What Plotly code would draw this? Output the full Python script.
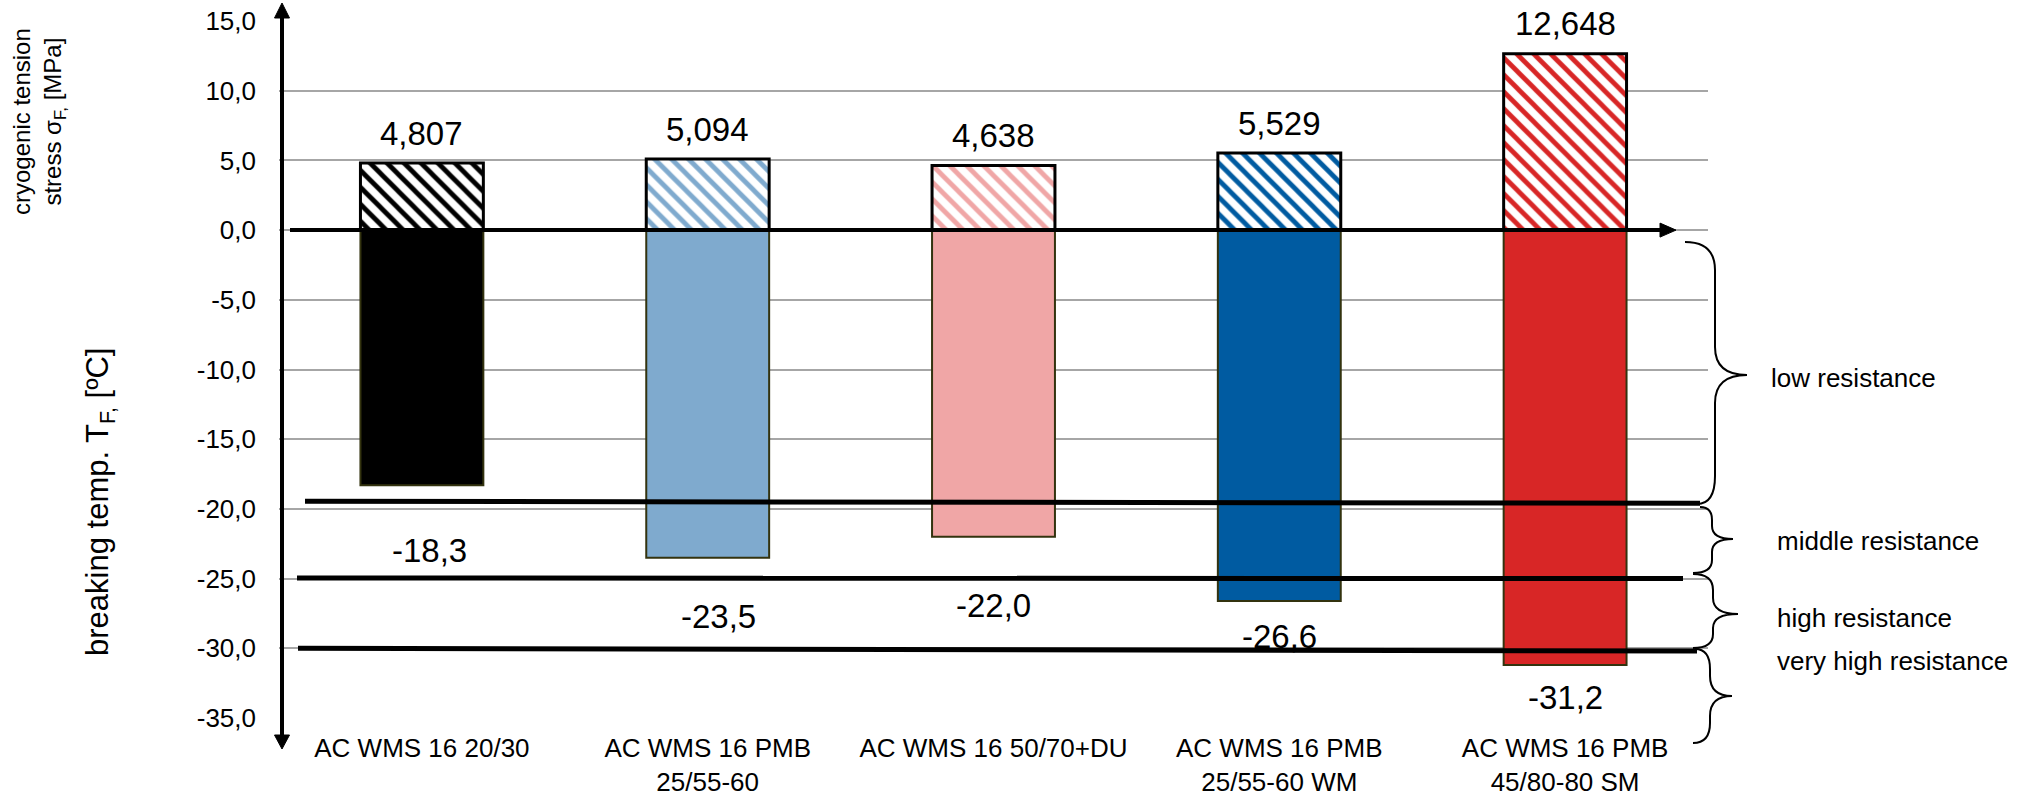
import plotly.graph_objects as go

# ---------------- data ----------------
categories = ["AC WMS 16 20/30", "AC WMS 16 PMB<br>25/55-60", "AC WMS 16 50/70+DU",
              "AC WMS 16 PMB<br>25/55-60 WM", "AC WMS 16 PMB<br>45/80-80 SM"]
stress = [4.807, 5.094, 4.638, 5.529, 12.648]          # cryogenic tension stress [MPa]
temp = [-18.3, -23.5, -22.0, -26.6, -31.2]              # breaking temperature [degC]
bar_colors = ["#000000", "#7FAACE", "#F0A6A6", "#005BA1", "#D82626"]
y_tick_vals = [15, 10, 5, 0, -5, -10, -15, -20, -25, -30, -35]
y_tick_text = ["15,0", "10,0", "5,0", "0,0", "-5,0", "-10,0", "-15,0", "-20,0", "-25,0", "-30,0", "-35,0"]
boundary_left = [-19.45, -24.95, -30.0]
boundary_right = [-19.6, -25.0, -30.2]
resistance_labels = ["low resistance", "middle resistance", "high resistance", "very high resistance"]

# label placement tweaks for the negative values (pixels)
neg_label_yshift = [-65, -59, -69, -36, -32]
neg_label_xshift = [8, 11, 0, 0, 0]

# ---------------- geometry helpers (page pixels -> paper) ----------------
W, H = 2023, 799
OFF = 0  # body margin removed by post_script
ML, MR, MT, MB = 279, 315, 21, 81
PW = W - ML - MR
PH = H - MT - MB


def fx(xp):
    return (xp - OFF - ML) / PW


def fy(yp):
    return (H - MB - (yp - OFF)) / PH


FONT = "Liberation Sans, Arial, sans-serif"

fig = go.Figure()

fig.add_trace(go.Bar(
    x=categories, y=temp, width=0.43,
    marker=dict(color=bar_colors, line=dict(color="#33330F", width=2)),
    showlegend=False, hoverinfo="skip"))

fig.add_trace(go.Bar(
    x=categories, y=stress, width=0.43,
    marker=dict(color="white",
                line=dict(color="black", width=3),
                pattern=dict(shape="\\", fgcolor=bar_colors, bgcolor="white",
                             size=12, solidity=0.4, fillmode="replace")),
    showlegend=False, hoverinfo="skip"))

shapes = []
# boundary lines
bl_x0 = [305, 297, 298]
bl_x1 = [1700, 1683, 1697]
for yl, yr, x0, x1 in zip(boundary_left, boundary_right, bl_x0, bl_x1):
    shapes.append(dict(type="line", xref="paper", yref="y", x0=fx(x0), x1=fx(x1), y0=yl, y1=yr,
                       line=dict(color="black", width=5), layer="above"))

# y axis with arrows
shapes.append(dict(type="line", xref="paper", yref="paper", x0=fx(282), x1=fx(282), y0=fy(16), y1=fy(737),
                   line=dict(color="black", width=4), layer="above"))
shapes.append(dict(type="path", xref="paper", yref="paper",
                   path=f"M {fx(282)},{fy(3)} L {fx(274.5)},{fy(18)} L {fx(289.5)},{fy(18)} Z",
                   fillcolor="black", line=dict(color="black", width=1), layer="above"))
shapes.append(dict(type="path", xref="paper", yref="paper",
                   path=f"M {fx(282)},{fy(749)} L {fx(274.5)},{fy(735)} L {fx(289.5)},{fy(735)} Z",
                   fillcolor="black", line=dict(color="black", width=1), layer="above"))
# x axis (zero line) with arrow
shapes.append(dict(type="line", xref="paper", yref="y", x0=fx(290), x1=fx(1662), y0=0, y1=0,
                   line=dict(color="black", width=4), layer="above"))
y0px = OFF + MT + PH * (15 / 50)
shapes.append(dict(type="path", xref="paper", yref="paper",
                   path=f"M {fx(1676)},{fy(y0px)} L {fx(1660)},{fy(y0px - 7)} L {fx(1660)},{fy(y0px + 7)} Z",
                   fillcolor="black", line=dict(color="black", width=1), layer="above"))


def brace(xe_t, xe_b, xb, xt, yt, ym, yb, r1, r2):
    return (f"M {fx(xe_t)},{fy(yt)} Q {fx(xb)},{fy(yt)} {fx(xb)},{fy(yt + r1)} "
            f"L {fx(xb)},{fy(ym - r1)} Q {fx(xb)},{fy(ym)} {fx(xt)},{fy(ym)} "
            f"Q {fx(xb)},{fy(ym)} {fx(xb)},{fy(ym + r2)} "
            f"L {fx(xb)},{fy(yb - r2)} Q {fx(xb)},{fy(yb)} {fx(xe_b)},{fy(yb)}")


braces = [
    (1685, 1697, 1715, 1747, 242, 375, 504, 28, 28),
    (1700, 1693, 1712, 1733, 507, 539, 573, 13, 13),
    (1693, 1693, 1713, 1738, 574, 614, 648, 16, 14),
    (1695, 1693, 1710, 1732, 649, 696, 743, 20, 20),
]
for b in braces:
    shapes.append(dict(type="path", xref="paper", yref="paper", path=brace(*b),
                       line=dict(color="black", width=2), layer="above"))

annotations = []
for c, v in zip(categories, stress):
    annotations.append(dict(x=c, y=v, xref="x", yref="y", text=f"{v:.3f}".replace(".", ","),
                            showarrow=False, yshift=30, yanchor="middle", bgcolor="white",
                            font=dict(size=33, color="black", family=FONT)))
for c, v, ys, xs in zip(categories, temp, neg_label_yshift, neg_label_xshift):
    annotations.append(dict(x=c, y=v, xref="x", yref="y", text=f"{v:.1f}".replace(".", ","),
                            showarrow=False, yshift=ys, xshift=xs, yanchor="middle",
                            font=dict(size=33, color="black", family=FONT)))

label_pos = [(1769, 378), (1775, 541), (1775, 618), (1775, 661)]
for t, (lx, ly) in zip(resistance_labels, label_pos):
    annotations.append(dict(x=fx(lx), y=fy(ly), xref="paper", yref="paper", text=t, showarrow=False,
                            xanchor="left", yanchor="middle", font=dict(size=26, color="black", family=FONT)))

annotations.append(dict(x=fx(39), y=fy(122), xref="paper", yref="paper",
                        text="cryogenic tension<br>stress σ<sub>F,</sub> [MPa]", showarrow=False,
                        textangle=-90, xanchor="center", yanchor="middle",
                        font=dict(size=24, color="black", family=FONT)))
annotations.append(dict(x=fx(100), y=fy(502), xref="paper", yref="paper",
                        text="breaking temp. T<sub>F,</sub> [ºC]", showarrow=False,
                        textangle=-90, xanchor="center", yanchor="middle",
                        font=dict(size=31, color="black", family=FONT)))

fig.update_layout(
    width=W, height=H,
    margin=dict(l=ML, r=MR, t=MT, b=MB, pad=0, autoexpand=False),
    plot_bgcolor="white", paper_bgcolor="white",
    barmode="overlay",
    shapes=shapes, annotations=annotations,
    font=dict(family=FONT, color="black"),
    xaxis=dict(showgrid=False, zeroline=False, showline=False, ticks="",
               tickfont=dict(size=26, color="black", family=FONT), range=[-0.5, 4.5],
               ticklabelstandoff=12),
    yaxis=dict(range=[-35, 15], tickvals=y_tick_vals, ticktext=y_tick_text, showgrid=True,
               gridcolor="#A6A6A6", gridwidth=1.5, zeroline=False, showline=False, ticks="",
               ticklabelstandoff=22, ticklabeloverflow="allow",
               tickfont=dict(size=26, color="black", family=FONT)),
)

fig.write_html("out.html", config={"displayModeBar": False},
               post_script="document.body.style.margin='0';document.body.style.overflow='hidden';")
